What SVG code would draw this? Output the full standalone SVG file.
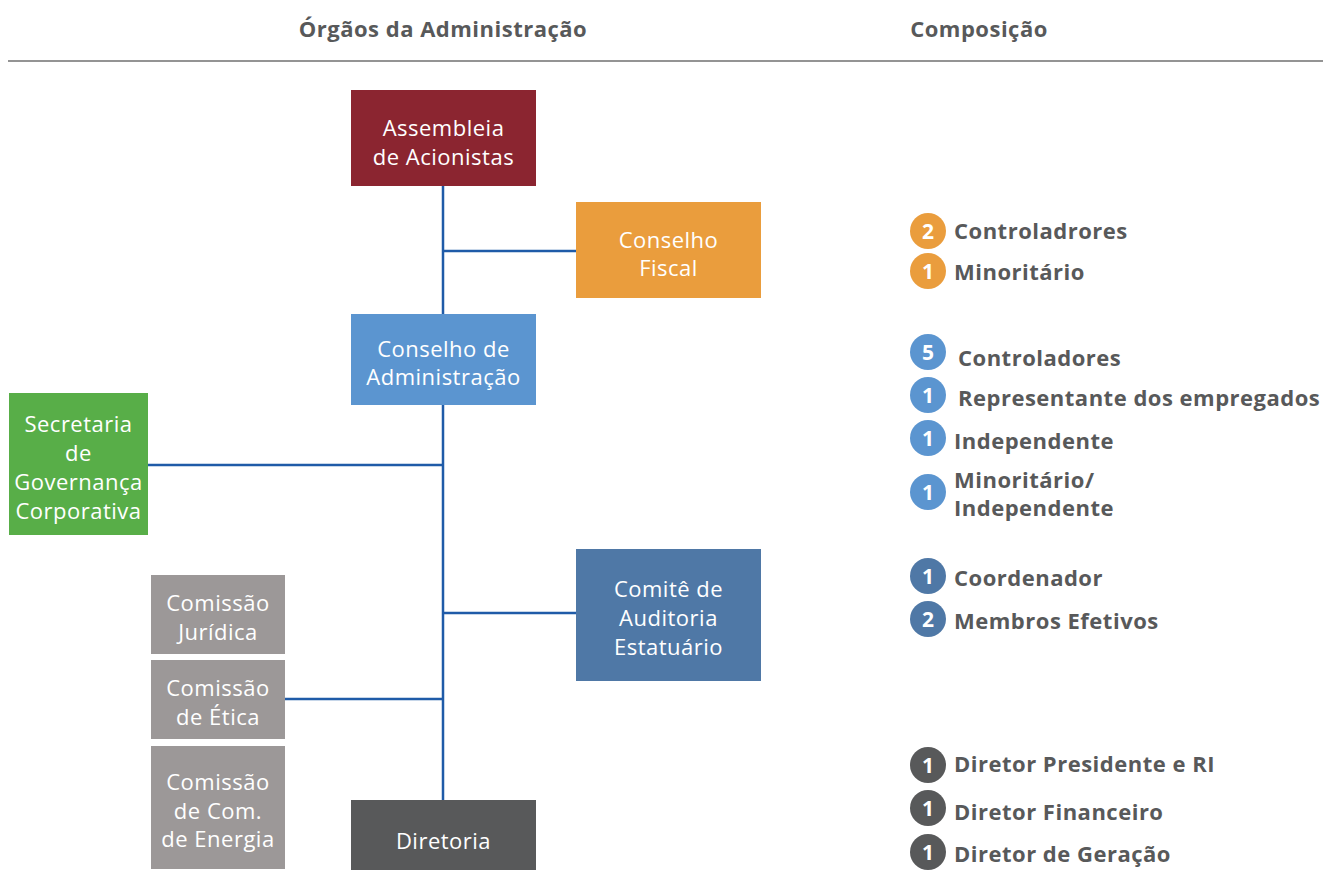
<svg xmlns="http://www.w3.org/2000/svg" width="1323" height="870" viewBox="0 0 1323 870">
<style>
.hd{font-family:"Open Sans",sans-serif;font-weight:bold;font-size:22px;letter-spacing:0.5px;fill:#58595a}
.bx{font-family:"Open Sans",sans-serif;font-size:22px;letter-spacing:0.5px;fill:#ffffff;text-anchor:middle}
.it{font-family:"Open Sans",sans-serif;font-weight:bold;font-size:22px;letter-spacing:0.5px;fill:#58595a}
.num{font-family:"Open Sans",sans-serif;font-weight:bold;font-size:21px;fill:#ffffff;text-anchor:middle}
.cn{stroke:#1f5ba8;stroke-width:2.5;fill:none}
</style>
<rect width="1323" height="870" fill="#ffffff"/>
<g id="header">
<text class="hd" x="443" y="37" text-anchor="middle">Órgãos da Administração</text>
<text class="hd" x="979" y="37" text-anchor="middle">Composição</text>
<line x1="8" y1="61" x2="1323" y2="61" stroke="#707070" stroke-width="1.5"/>
</g>
<g id="connectors">
<line class="cn" x1="443" y1="186" x2="443" y2="800"/>
<line class="cn" x1="443" y1="251" x2="576" y2="251"/>
<line class="cn" x1="148" y1="465" x2="443" y2="465"/>
<line class="cn" x1="443" y1="613" x2="576" y2="613"/>
<line class="cn" x1="285" y1="699" x2="443" y2="699"/>
</g>
<g id="assembleia">
<rect x="351" y="90" width="185" height="96" fill="#8b2530"/>
<text class="bx" x="443.5" y="136">Assembleia</text>
<text class="bx" x="443.5" y="165">de Acionistas</text>
</g>
<g id="conselho-fiscal">
<rect x="576" y="202" width="185" height="96" fill="#ea9d3d"/>
<text class="bx" x="668.5" y="248">Conselho</text>
<text class="bx" x="668.5" y="276">Fiscal</text>
</g>
<g id="conselho-administracao">
<rect x="351" y="314" width="185" height="91" fill="#5b95d0"/>
<text class="bx" x="443.5" y="357">Conselho de</text>
<text class="bx" x="443.5" y="385">Administração</text>
</g>
<g id="secretaria">
<rect x="9" y="393" width="139" height="142" fill="#58ae48"/>
<text class="bx" x="78.5" y="432">Secretaria</text>
<text class="bx" x="78.5" y="461">de</text>
<text class="bx" x="78.5" y="490">Governança</text>
<text class="bx" x="78.5" y="519">Corporativa</text>
</g>
<g id="comite-auditoria">
<rect x="576" y="549" width="185" height="132" fill="#4f78a6"/>
<text class="bx" x="668.5" y="597">Comitê de</text>
<text class="bx" x="668.5" y="626">Auditoria</text>
<text class="bx" x="668.5" y="655">Estatuário</text>
</g>
<g id="comissao-juridica">
<rect x="151" y="575" width="134" height="79" fill="#9c9898"/>
<text class="bx" x="218" y="611">Comissão</text>
<text class="bx" x="218" y="640">Jurídica</text>
</g>
<g id="comissao-etica">
<rect x="151" y="660" width="134" height="79" fill="#9c9898"/>
<text class="bx" x="218" y="696">Comissão</text>
<text class="bx" x="218" y="725">de Ética</text>
</g>
<g id="comissao-energia">
<rect x="151" y="746" width="134" height="123" fill="#9c9898"/>
<text class="bx" x="218" y="790">Comissão</text>
<text class="bx" x="218" y="819">de Com.</text>
<text class="bx" x="218" y="847">de Energia</text>
</g>
<g id="diretoria">
<rect x="351" y="800" width="185" height="70" fill="#58595a"/>
<text class="bx" x="443.5" y="849">Diretoria</text>
</g>
<g id="composicao-fiscal">
<circle cx="928" cy="231" r="18" fill="#ea9d3d"/><text class="num" x="928" y="238.5">2</text>
<text class="it" x="954" y="239">Controladrores</text>
<circle cx="928" cy="271" r="18" fill="#ea9d3d"/><text class="num" x="928" y="278.5">1</text>
<text class="it" x="954" y="280">Minoritário</text>
</g>
<g id="composicao-administracao">
<circle cx="928" cy="352" r="18" fill="#5b95d0"/><text class="num" x="928" y="359.5">5</text>
<text class="it" x="958" y="366">Controladores</text>
<circle cx="928" cy="395" r="18" fill="#5b95d0"/><text class="num" x="928" y="402.5">1</text>
<text class="it" x="958" y="406">Representante dos empregados</text>
<circle cx="928" cy="438" r="18" fill="#5b95d0"/><text class="num" x="928" y="445.5">1</text>
<text class="it" x="954" y="449">Independente</text>
<circle cx="928" cy="492" r="18" fill="#5b95d0"/><text class="num" x="928" y="499.5">1</text>
<text class="it" x="954" y="488">Minoritário/</text>
<text class="it" x="954" y="516">Independente</text>
</g>
<g id="composicao-comite">
<circle cx="928" cy="576" r="18" fill="#4f78a6"/><text class="num" x="928" y="583.5">1</text>
<text class="it" x="954" y="586">Coordenador</text>
<circle cx="928" cy="619" r="18" fill="#4f78a6"/><text class="num" x="928" y="626.5">2</text>
<text class="it" x="954" y="629">Membros Efetivos</text>
</g>
<g id="composicao-diretoria">
<circle cx="928" cy="765" r="18" fill="#58595a"/><text class="num" x="928" y="772.5">1</text>
<text class="it" x="954" y="772">Diretor Presidente e RI</text>
<circle cx="928" cy="808" r="18" fill="#58595a"/><text class="num" x="928" y="815.5">1</text>
<text class="it" x="954" y="820">Diretor Financeiro</text>
<circle cx="928" cy="852" r="18" fill="#58595a"/><text class="num" x="928" y="859.5">1</text>
<text class="it" x="954" y="862">Diretor de Geração</text>
</g>
</svg>
